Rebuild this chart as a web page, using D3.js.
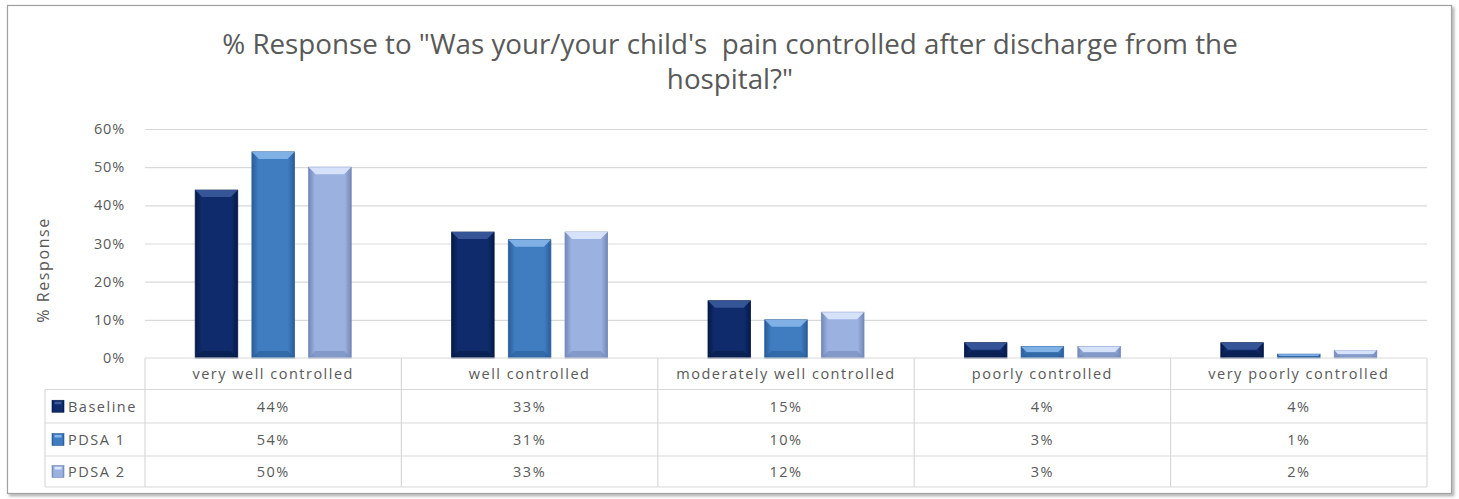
<!DOCTYPE html>
<html><head><meta charset="utf-8">
<script src="https://cdn.jsdelivr.net/npm/d3@7"></script>
<style>html,body{margin:0;padding:0;background:#fff;}svg{display:block;}text{white-space:pre;}</style>
</head><body>
<script>
const categories = ["very well controlled","well controlled","moderately well controlled","poorly controlled","very poorly controlled"];
const seriesNames = ["Baseline","PDSA 1","PDSA 2"];
const baseline = [44,33,15,4,4];
const pdsa1 = [54,31,10,3,1];
const pdsa2 = [50,33,12,3,2];
const yTicks = [0,10,20,30,40,50,60];
const titleLines = ["% Response to \"Was your/your child's  pain controlled after discharge from the", "hospital?\""];
const yLabel = "% Response";

const series = [baseline, pdsa1, pdsa2];
const colors = [
  {main:"#0f2b6b", light:"#3a5a9c", dark:"#061a48"},
  {main:"#3f7cc0", light:"#86b6ea", dark:"#2a5d99"},
  {main:"#9bb1df", light:"#dce8fc", dark:"#7388b8"}
];

const W = 1459, H = 499;
const svg = d3.select("body").append("svg").attr("width", W).attr("height", H);
const defs = svg.append("defs");
colors.forEach((c,i)=>{
  const g = defs.append("linearGradient").attr("id","hg"+i).attr("x1","0").attr("x2","1").attr("y1","0").attr("y2","0");
  g.append("stop").attr("offset","0").attr("stop-color",c.dark);
  g.append("stop").attr("offset","0.15").attr("stop-color",c.main);
  g.append("stop").attr("offset","0.85").attr("stop-color",c.main);
  g.append("stop").attr("offset","1").attr("stop-color",c.dark);
});
const sh = defs.append("filter").attr("id","shadow").attr("x","-5%").attr("y","-5%").attr("width","110%").attr("height","110%");
sh.append("feDropShadow").attr("dx",2).attr("dy",2).attr("stdDeviation",1.5).attr("flood-color","#000").attr("flood-opacity",0.35);

// outer frame
svg.append("rect").attr("x",7.5).attr("y",5.5).attr("width",1444).attr("height",488)
  .attr("fill","#fff").attr("stroke","#a0a0a0").attr("stroke-width",1.2).attr("filter","url(#shadow)");

const font = "'Open Sans', sans-serif";
const textColor = "#595959";

// title (font size fitted to the reference width of line 1)
const title = svg.append("g").selectAll("text").data(titleLines).join("text")
  .attr("x", 730).attr("y",(d,i)=>54 + i*35)
  .attr("text-anchor","middle").attr("font-family",font).attr("font-size",22)
  .attr("fill",textColor).text(d=>d);
const tw = title.node().getComputedTextLength();
title.attr("font-size", 22 * 1016 / tw);

const plotL = 145, plotR = 1427, plotT = 129, plotB = 358;
const x = d3.scaleBand().domain(categories).range([plotL,plotR]);
const y = d3.scaleLinear().domain([0,60]).range([plotB, plotT]);
const xs = d3.scaleBand().domain(seriesNames).range([0, 156]).paddingInner(0.25);

// gridlines
svg.append("g").selectAll("line").data(yTicks.filter(t=>t>0)).join("line")
  .attr("x1",plotL).attr("x2",plotR).attr("y1",d=>y(d)+0.5).attr("y2",d=>y(d)+0.5)
  .attr("stroke","#d9d9d9").attr("stroke-width",1.2);

const tFS = 14.5, tLS = 1.5;
// y axis
const yAxis = d3.axisLeft(y).tickValues(yTicks).tickFormat(d=>d+"%").tickSize(0).tickPadding(20);
const ya = svg.append("g").attr("transform",`translate(${plotL},0)`).call(yAxis);
ya.select(".domain").remove();
ya.selectAll("text").attr("font-family",font).attr("font-size",tFS).attr("letter-spacing",0.8).attr("fill",textColor);

svg.append("text").attr("transform","translate(49,270) rotate(-90)")
  .attr("text-anchor","middle").attr("font-family",font).attr("font-size",16).attr("letter-spacing",1.6)
  .attr("fill",textColor).text(yLabel);

// bars
const groupOffset = (x.bandwidth()-156)/2;
const bars = svg.append("g");
series.forEach((vals,si)=>{
  const g = bars.append("g");
  vals.forEach((v,ci)=>{
    const bx = x(categories[ci]) + groupOffset + xs(seriesNames[si]);
    const bw = xs.bandwidth();
    const by = y(v), bh = plotB - y(v);
    g.append("rect").attr("x",bx).attr("y",by).attr("width",bw).attr("height",bh)
      .attr("fill","url(#hg"+si+")").attr("stroke",colors[si].dark).attr("stroke-width",0.8);
    const bev = Math.min(7, bh/2);
    g.append("path").attr("d",`M${bx},${by} L${bx+bw},${by} L${bx+bw-bev},${by+bev} L${bx+bev},${by+bev} Z`)
      .attr("fill",colors[si].light).attr("opacity",0.9);
    g.append("path").attr("d",`M${bx},${by+bh} L${bx+bw},${by+bh} L${bx+bw-bev},${by+bh-bev} L${bx+bev},${by+bh-bev} Z`)
      .attr("fill",colors[si].dark).attr("opacity",0.6);
  });
});

// data table
const rowY = [358, 389.5, 423, 456, 487];
const labLeft = 45;
const tbl = svg.append("g").attr("stroke","#d9d9d9").attr("stroke-width",1.2);
tbl.append("line").attr("x1",plotL).attr("x2",plotR).attr("y1",rowY[0]).attr("y2",rowY[0]);
rowY.slice(1).forEach(yy=>tbl.append("line").attr("x1",labLeft).attr("x2",plotR).attr("y1",yy).attr("y2",yy));
tbl.append("line").attr("x1",labLeft).attr("x2",labLeft).attr("y1",rowY[1]).attr("y2",rowY[4]);
categories.forEach(c=>tbl.append("line").attr("x1",x(c)).attr("x2",x(c)).attr("y1",rowY[0]).attr("y2",rowY[4]));
tbl.append("line").attr("x1",plotR).attr("x2",plotR).attr("y1",rowY[0]).attr("y2",rowY[4]);

// header labels
svg.append("g").selectAll("text").data(categories).join("text")
  .attr("x",d=>x(d)+x.bandwidth()/2).attr("y",(rowY[0]+rowY[1])/2+5.5)
  .attr("text-anchor","middle").attr("font-family",font).attr("font-size",tFS).attr("letter-spacing",tLS)
  .attr("fill",textColor).text(d=>d);

// rows
series.forEach((vals,si)=>{
  const cy = (rowY[si+1]+rowY[si+2])/2;
  const kx = 52, ks = 12;
  svg.append("rect").attr("x",kx).attr("y",cy-ks/2).attr("width",ks).attr("height",ks)
    .attr("fill","url(#hg"+si+")").attr("stroke",colors[si].dark).attr("stroke-width",0.6);
  svg.append("rect").attr("x",kx+2.5).attr("y",cy-ks/2+1.5).attr("width",ks-5).attr("height",2.5).attr("fill",colors[si].light);
  svg.append("text").attr("x",kx+ks+4).attr("y",cy+5.5).attr("font-family",font).attr("font-size",tFS)
    .attr("letter-spacing",tLS).attr("fill",textColor).text(seriesNames[si]);
  svg.append("g").selectAll("text").data(vals).join("text")
    .attr("x",(d,i)=>x(categories[i])+x.bandwidth()/2).attr("y",cy+5.5)
    .attr("text-anchor","middle").attr("font-family",font).attr("font-size",tFS).attr("letter-spacing",tLS)
    .attr("fill",textColor).text(d=>d+"%");
});
</script>
</body></html>
